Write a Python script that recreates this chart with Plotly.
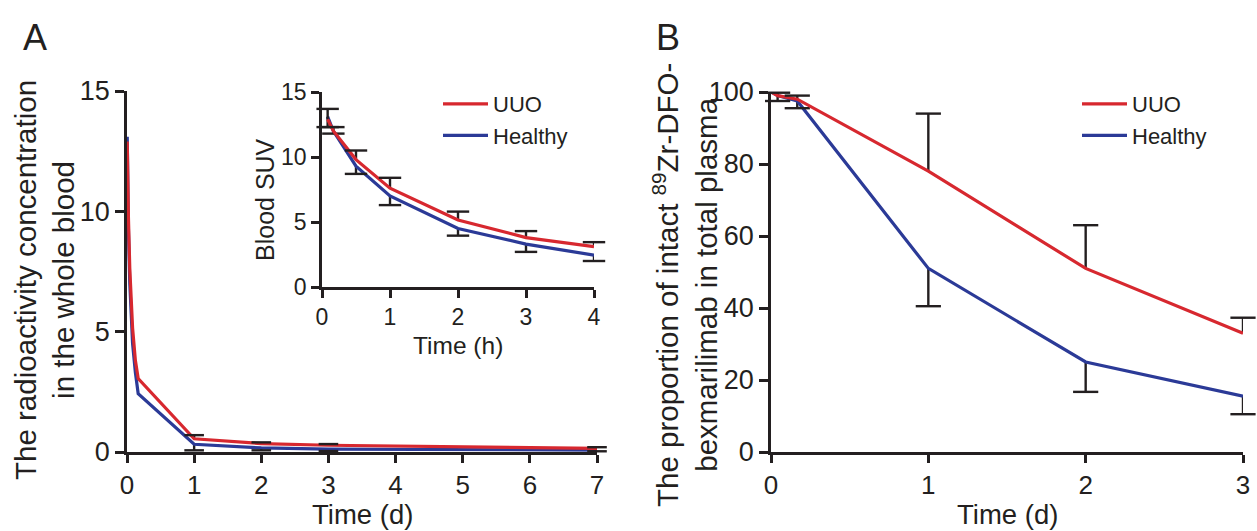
import plotly.graph_objects as go

# ---------------- data ----------------
# Panel A main (time in days)
a_time_d = [0.0035, 0.0069, 0.0208, 0.0417, 0.0833, 0.125, 0.1667, 1, 2, 3, 7]
a_uuo = [12.9, 12.0, 9.8, 7.6, 5.15, 3.8, 3.05, 0.55, 0.35, 0.28, 0.15]
a_uuo_err = [0, 0, 0, 0, 0, 0, 0, 0.15, 0.05, 0.05, 0.05]
a_healthy = [13.1, 12.0, 9.3, 7.0, 4.5, 3.3, 2.42, 0.32, 0.17, 0.12, 0.08]
a_healthy_err = [0, 0, 0, 0, 0, 0, 0, 0.25, 0.1, 0.08, 0.05]

# Panel A inset (time in hours)
in_time_h = [0.083, 0.167, 0.5, 1, 2, 3, 4]
in_uuo = [12.9, 12.0, 9.8, 7.6, 5.15, 3.8, 3.1]
in_uuo_err = [0.8, 0.3, 0.7, 0.8, 0.65, 0.5, 0.35]
in_healthy = [13.1, 12.0, 9.3, 7.0, 4.5, 3.3, 2.45]
in_healthy_err = [0.8, 0.2, 0.6, 0.7, 0.55, 0.6, 0.45]

# Panel B (time in days)
b_time_d = [0, 0.042, 0.167, 1, 2, 3]
b_uuo = [100, 99, 98, 78, 51, 33]
b_uuo_err = [0, 0.8, 1.0, 16, 12, 4.3]
b_healthy = [100, 99, 97.5, 51, 25, 15.5]
b_healthy_err = [0, 1.5, 2.0, 10.5, 8.3, 5]

a_xticks = [0, 1, 2, 3, 4, 5, 6, 7]
a_yticks = [0, 5, 10, 15]
in_xticks = [0, 1, 2, 3, 4]
in_yticks = [0, 5, 10, 15]
b_xticks = [0, 1, 2, 3]
b_yticks = [0, 20, 40, 60, 80, 100]

RED = "#D7282F"
BLUE = "#2B3A97"
INK = "#231F20"
FONT = "Liberation Sans, Arial, sans-serif"

W, H = 1257, 531

fig = go.Figure()


def add_series(x, y, err, direction, color, name, xa, ya, legend, showlegend, rank, cap):
    up = [e if direction > 0 else 0 for e in err]
    dn = [e if direction < 0 else 0 for e in err]
    fig.add_trace(go.Scatter(
        x=x, y=y, mode="lines", name=name,
        line=dict(color=color, width=3.2),
        error_y=dict(type="data", symmetric=False, array=up, arrayminus=dn,
                     width=0, thickness=2.4, color=INK),
        xaxis=xa, yaxis=ya, legend=legend, showlegend=showlegend,
        legendrank=rank, cliponaxis=False, hoverinfo="skip"))
    cx = [xi for xi, e in zip(x, err) if e > 0]
    cy = [yi + direction * e for yi, e in zip(y, err) if e > 0]
    fig.add_trace(go.Scatter(
        x=cx, y=cy, mode="markers", showlegend=False,
        marker=dict(symbol="line-ew", size=cap, color=INK,
                    line=dict(width=2.4, color=INK)),
        xaxis=xa, yaxis=ya, cliponaxis=False, hoverinfo="skip"))


# Healthy first so UUO (red) is on top
add_series(a_time_d, a_healthy, a_healthy_err, -1, BLUE, "Healthy", "x", "y", "legend", False, 2, 14)
add_series(a_time_d, a_uuo, a_uuo_err, 1, RED, "UUO", "x", "y", "legend", False, 1, 14)
add_series(in_time_h, in_healthy, in_healthy_err, -1, BLUE, "Healthy", "x2", "y2", "legend", True, 2, 16)
add_series(in_time_h, in_uuo, in_uuo_err, 1, RED, "UUO", "x2", "y2", "legend", True, 1, 16)
add_series(b_time_d, b_healthy, b_healthy_err, -1, BLUE, "Healthy", "x3", "y3", "legend2", True, 2, 18)
add_series(b_time_d, b_uuo, b_uuo_err, 1, RED, "UUO", "x3", "y3", "legend2", True, 1, 18)


def px_x(p):
    return p / W


def px_y(p):
    return 1 - p / H


def axis(domain, rng, ticks, anchor, size, ticklen):
    return dict(domain=domain, range=rng, tickvals=ticks, anchor=anchor,
                automargin=False,
                showline=True, linecolor=INK, linewidth=2.5,
                ticks="outside", ticklen=ticklen, tickwidth=2.5, tickcolor=INK,
                showgrid=False, zeroline=False, fixedrange=True,
                tickfont=dict(family=FONT, size=size, color=INK))


layout = dict(
    template="none",
    width=W, height=H,
    margin=dict(l=0, r=0, t=0, b=0, pad=0, autoexpand=False),
    paper_bgcolor="white", plot_bgcolor="rgba(0,0,0,0)",
    font=dict(family=FONT, color=INK),
    xaxis=axis([px_x(127), px_x(597)], [0, 7], a_xticks, "y", 26, 8),
    yaxis=axis([px_y(452), px_y(91)], [0, 15], a_yticks, "x", 27, 9),
    xaxis2=axis([px_x(322), px_x(594)], [0, 4], in_xticks, "y2", 23, 8),
    yaxis2=axis([px_y(287), px_y(92)], [0, 15], in_yticks, "x2", 23, 8),
    xaxis3=axis([px_x(771), px_x(1243)], [0, 3], b_xticks, "y3", 26, 8),
    yaxis3=axis([px_y(452), px_y(92)], [0, 100], b_yticks, "x3", 27, 9),
    legend=dict(x=px_x(438), y=px_y(83), xanchor="left", yanchor="top",
                bgcolor="rgba(0,0,0,0)", borderwidth=0, itemwidth=45,
                tracegroupgap=0,
                font=dict(family=FONT, size=22, color=INK)),
    legend2=dict(x=px_x(1077), y=px_y(83), xanchor="left", yanchor="top",
                 bgcolor="rgba(0,0,0,0)", borderwidth=0, itemwidth=45,
                 font=dict(family=FONT, size=22, color=INK)),
    showlegend=True,
)
fig.update_layout(**layout)

ann = [
    dict(text="A", x=px_x(35), y=px_y(38), size=36, angle=0),
    dict(text="B", x=px_x(668), y=px_y(38), size=36, angle=0),
    dict(text="The radioactivity concentration<br>in the whole blood",
         x=px_x(44), y=px_y(280), size=29.5, angle=-90),
    dict(text="Time (d)", x=px_x(362), y=px_y(514), size=27.5, angle=0),
    dict(text="Blood SUV", x=px_x(265), y=px_y(200), size=25, angle=-90),
    dict(text="Time (h)", x=px_x(458), y=px_y(345), size=24.5, angle=0),
    dict(text="The proportion of intact <sup>89</sup>Zr-DFO-<br>bexmarilimab in total plasma",
         x=px_x(685), y=px_y(285), size=29.5, angle=-90),
    dict(text="Time (d)", x=px_x(1007), y=px_y(514), size=27.5, angle=0),
]
for a in ann:
    fig.add_annotation(text=a["text"], x=a["x"], y=a["y"], xref="paper", yref="paper",
                       xanchor="center", yanchor="middle", showarrow=False,
                       textangle=a["angle"], borderpad=0,
                       font=dict(family=FONT, size=a["size"], color=INK))

fig.write_html("out.html", config={"displayModeBar": False},
               post_script="document.body.style.margin='0px';document.body.style.overflow='hidden';")
